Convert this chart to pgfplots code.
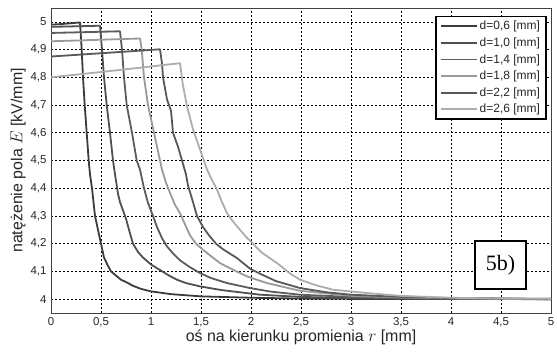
\documentclass[border=0pt]{standalone}
\usepackage{pgfplots}
\pgfplotsset{compat=1.18}
\usepackage{fontspec}
\setmainfont{Liberation Sans}
\newfontfamily\seriffont{Liberation Serif}
\definecolor{cA}{HTML}{3C3C3C}
\definecolor{cB}{HTML}{505050}
\definecolor{cC}{HTML}{5C5C5C}
\definecolor{cD}{HTML}{9A9A9A}
\definecolor{cE}{HTML}{585858}
\definecolor{cF}{HTML}{ADADAD}
\begin{document}
\begin{tikzpicture}
\begin{axis}[
  scale only axis,
  width=500bp, height=305bp,
  xmin=0, xmax=5, ymin=3.95, ymax=5.05,
  xtick={0,0.5,...,5}, ytick={4,4.1,...,5.01},
  /pgf/number format/.cd, use comma, 1000 sep={}, assume math mode=true,
  /pgfplots/.cd,
  major tick length=0pt,
  grid=major,
  major grid style={black, dash pattern=on 2bp off 2bp, line width=0.6bp},
  axis line style={black!75, line width=0.9bp},
  tick label style={font=\fontsize{11.5}{13}\selectfont, text=black!85},
  xticklabel style={yshift=-1bp},
  yticklabel style={xshift=-1bp},
  xlabel={oś na kierunku promienia $r$ [mm]},
  ylabel={natężenie pola $E$ [kV/mm]},
  label style={font=\fontsize{16}{18}\selectfont, text=black!85},
  xlabel style={yshift=4bp},
  ylabel style={yshift=-2bp},
  legend cell align=left,
  legend style={at={(0.991,0.974)}, anchor=north east, draw=black, line width=1.3bp,
    font=\fontsize{12}{13}\selectfont, row sep=2.5bp, inner xsep=4bp, inner ysep=2.5bp,
    text=black!85},
  legend image code/.code={\draw[#1, line width=1.8bp] (0bp,0bp) -- (36bp,0bp);},
  every axis plot/.append style={line width=1.8bp, line join=round},
]
\addplot[cA] coordinates {(0,4.99)(0.1,4.992)(0.2,4.995)(0.29,4.998)(0.307,4.9)(0.32,4.8)(0.337,4.7)(0.357,4.6)(0.377,4.5)(0.39,4.45)(0.41,4.4)(0.44,4.3)(0.47,4.25)(0.50,4.2)(0.53,4.15)(0.57,4.12)(0.6,4.1)(0.65,4.085)(0.7,4.07)(0.76,4.06)(0.82,4.048)(0.9,4.037)(1.0,4.028)(1.2,4.018)(1.5,4.01)(2.0,4.005)(2.5,4.002)(3,4.001)(5,4.0)};
\addlegendentry{d=0,6 [mm]}
\addplot[cB] coordinates {(0,4.982)(0.25,4.984)(0.49,4.986)(0.51,4.9)(0.53,4.8)(0.557,4.7)(0.59,4.6)(0.62,4.5)(0.64,4.45)(0.67,4.38)(0.69,4.35)(0.72,4.32)(0.75,4.29)(0.78,4.25)(0.82,4.2)(0.87,4.17)(0.92,4.15)(1.0,4.125)(1.09,4.105)(1.18,4.085)(1.26,4.07)(1.35,4.058)(1.49,4.046)(1.7,4.033)(2.09,4.016)(2.5,4.008)(3,4.004)(4,4.001)(5,4.0)};
\addlegendentry{d=1,0 [mm]}
\addplot[cC] coordinates {(0,4.96)(0.35,4.963)(0.69,4.966)(0.71,4.9)(0.73,4.8)(0.757,4.7)(0.81,4.6)(0.857,4.5)(0.89,4.467)(0.93,4.4)(0.97,4.347)(1.02,4.3)(1.06,4.26)(1.11,4.22)(1.16,4.19)(1.22,4.165)(1.29,4.14)(1.39,4.115)(1.49,4.094)(1.6,4.076)(1.76,4.058)(1.99,4.04)(2.2,4.027)(2.49,4.016)(3,4.008)(3.5,4.004)(4,4.002)(5,4.0)};
\addlegendentry{d=1,4 [mm]}
\addplot[cD] coordinates {(0,4.93)(0.45,4.935)(0.89,4.94)(0.907,4.9)(0.93,4.8)(0.97,4.7)(1.03,4.6)(1.09,4.5)(1.11,4.467)(1.15,4.42)(1.19,4.383)(1.24,4.34)(1.29,4.31)(1.34,4.27)(1.39,4.23)(1.45,4.2)(1.52,4.178)(1.6,4.155)(1.69,4.13)(1.82,4.106)(1.96,4.082)(2.16,4.058)(2.49,4.03)(3,4.012)(3.5,4.006)(4,4.003)(5,4.001)};
\addlegendentry{d=1,8 [mm]}
\addplot[cE] coordinates {(0,4.875)(0.55,4.888)(1.09,4.901)(1.11,4.85)(1.12,4.8)(1.16,4.72)(1.2,4.68)(1.22,4.6)(1.27,4.55)(1.31,4.5)(1.35,4.45)(1.37,4.41)(1.42,4.35)(1.46,4.3)(1.52,4.26)(1.58,4.23)(1.65,4.2)(1.72,4.18)(1.86,4.148)(1.99,4.11)(2.1,4.09)(2.25,4.065)(2.49,4.04)(2.75,4.025)(3.0,4.016)(3.5,4.008)(4,4.004)(5,4.001)};
\addlegendentry{d=2,2 [mm]}
\addplot[cF] coordinates {(0,4.80)(0.65,4.825)(1.29,4.851)(1.32,4.77)(1.36,4.696)(1.42,4.612)(1.49,4.54)(1.56,4.467)(1.61,4.43)(1.66,4.395)(1.71,4.35)(1.76,4.31)(1.82,4.28)(1.89,4.25)(1.95,4.225)(2.02,4.2)(2.1,4.17)(2.26,4.13)(2.4,4.09)(2.49,4.07)(2.65,4.05)(2.82,4.034)(3.16,4.022)(3.49,4.012)(4,4.005)(4.5,4.002)(5,4.001)};
\addlegendentry{d=2,6 [mm]}
\node[draw=black, line width=1.6bp, fill=white, minimum width=51bp, minimum height=48bp, inner sep=0pt, font=\seriffont\fontsize{22}{24}\selectfont] at (axis cs:4.495,4.124) {5b)};
\end{axis}
\pgfresetboundingbox
\useasboundingbox ([shift={(-51bp,-38bp)}]current axis.south west) rectangle ([shift={(6bp,8bp)}]current axis.north east);
\end{tikzpicture}
\end{document}
